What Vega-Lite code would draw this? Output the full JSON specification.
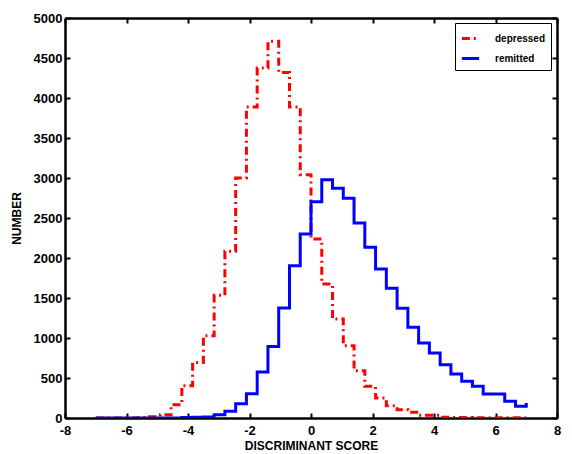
{
  "$schema": "https://vega.github.io/schema/vega-lite/v6.json",
  "width": 492,
  "height": 400,
  "autosize": "none",
  "padding": {"left": 65, "top": 18, "right": 15, "bottom": 36},
  "background": "white",
  "data": {"values": [
    {"x": -7.00, "n": 0, "s": "depressed"},
    {"x": -6.65, "n": 0, "s": "depressed"},
    {"x": -6.30, "n": 0, "s": "depressed"},
    {"x": -5.95, "n": 0, "s": "depressed"},
    {"x": -5.60, "n": 5, "s": "depressed"},
    {"x": -5.25, "n": 15, "s": "depressed"},
    {"x": -4.90, "n": 41, "s": "depressed"},
    {"x": -4.55, "n": 166, "s": "depressed"},
    {"x": -4.20, "n": 404, "s": "depressed"},
    {"x": -3.85, "n": 695, "s": "depressed"},
    {"x": -3.50, "n": 1029, "s": "depressed"},
    {"x": -3.15, "n": 1533, "s": "depressed"},
    {"x": -2.80, "n": 2083, "s": "depressed"},
    {"x": -2.45, "n": 3000, "s": "depressed"},
    {"x": -2.10, "n": 3888, "s": "depressed"},
    {"x": -1.75, "n": 4375, "s": "depressed"},
    {"x": -1.40, "n": 4708, "s": "depressed"},
    {"x": -1.05, "n": 4320, "s": "depressed"},
    {"x": -0.70, "n": 3888, "s": "depressed"},
    {"x": -0.35, "n": 3041, "s": "depressed"},
    {"x": 0.00, "n": 2237, "s": "depressed"},
    {"x": 0.35, "n": 1675, "s": "depressed"},
    {"x": 0.70, "n": 1237, "s": "depressed"},
    {"x": 1.05, "n": 904, "s": "depressed"},
    {"x": 1.40, "n": 592, "s": "depressed"},
    {"x": 1.75, "n": 396, "s": "depressed"},
    {"x": 2.10, "n": 250, "s": "depressed"},
    {"x": 2.45, "n": 154, "s": "depressed"},
    {"x": 2.80, "n": 104, "s": "depressed"},
    {"x": 3.15, "n": 71, "s": "depressed"},
    {"x": 3.50, "n": 33, "s": "depressed"},
    {"x": 3.85, "n": 33, "s": "depressed"},
    {"x": 4.20, "n": 10, "s": "depressed"},
    {"x": 4.55, "n": 6, "s": "depressed"},
    {"x": 4.90, "n": 5, "s": "depressed"},
    {"x": 5.25, "n": 4, "s": "depressed"},
    {"x": 5.60, "n": 3, "s": "depressed"},
    {"x": 5.95, "n": 3, "s": "depressed"},
    {"x": 6.30, "n": 2, "s": "depressed"},
    {"x": 6.65, "n": 2, "s": "depressed"},
    {"x": 7.00, "n": 2, "s": "depressed"},
    {"x": -7.00, "n": 0, "s": "remitted"},
    {"x": -6.65, "n": 0, "s": "remitted"},
    {"x": -6.30, "n": 0, "s": "remitted"},
    {"x": -5.95, "n": 0, "s": "remitted"},
    {"x": -5.60, "n": 0, "s": "remitted"},
    {"x": -5.25, "n": 0, "s": "remitted"},
    {"x": -4.90, "n": 0, "s": "remitted"},
    {"x": -4.55, "n": 0, "s": "remitted"},
    {"x": -4.20, "n": 5, "s": "remitted"},
    {"x": -3.85, "n": 8, "s": "remitted"},
    {"x": -3.50, "n": 12, "s": "remitted"},
    {"x": -3.15, "n": 41, "s": "remitted"},
    {"x": -2.80, "n": 83, "s": "remitted"},
    {"x": -2.45, "n": 179, "s": "remitted"},
    {"x": -2.10, "n": 304, "s": "remitted"},
    {"x": -1.75, "n": 575, "s": "remitted"},
    {"x": -1.40, "n": 895, "s": "remitted"},
    {"x": -1.05, "n": 1375, "s": "remitted"},
    {"x": -0.70, "n": 1904, "s": "remitted"},
    {"x": -0.35, "n": 2300, "s": "remitted"},
    {"x": 0.00, "n": 2704, "s": "remitted"},
    {"x": 0.35, "n": 2979, "s": "remitted"},
    {"x": 0.70, "n": 2871, "s": "remitted"},
    {"x": 1.05, "n": 2746, "s": "remitted"},
    {"x": 1.40, "n": 2437, "s": "remitted"},
    {"x": 1.75, "n": 2133, "s": "remitted"},
    {"x": 2.10, "n": 1862, "s": "remitted"},
    {"x": 2.45, "n": 1621, "s": "remitted"},
    {"x": 2.80, "n": 1371, "s": "remitted"},
    {"x": 3.15, "n": 1133, "s": "remitted"},
    {"x": 3.50, "n": 937, "s": "remitted"},
    {"x": 3.85, "n": 812, "s": "remitted"},
    {"x": 4.20, "n": 666, "s": "remitted"},
    {"x": 4.55, "n": 550, "s": "remitted"},
    {"x": 4.90, "n": 458, "s": "remitted"},
    {"x": 5.25, "n": 396, "s": "remitted"},
    {"x": 5.60, "n": 300, "s": "remitted"},
    {"x": 5.95, "n": 300, "s": "remitted"},
    {"x": 6.30, "n": 208, "s": "remitted"},
    {"x": 6.65, "n": 146, "s": "remitted"},
    {"x": 7.00, "n": 188, "s": "remitted"}
  ]},
  "layer": [
    {
      "mark": {"type": "line", "interpolate": "step-after", "strokeWidth": 3, "clip": true},
      "encoding": {
        "x": {"field": "x", "type": "quantitative",
          "scale": {"domain": [-8, 8], "nice": false, "zero": false},
          "axis": {"orient": "bottom", "title": "DISCRIMINANT SCORE", "values": [-8, -6, -4, -2, 0, 2, 4, 6, 8], "labelExpr": "'' + datum.value", "labelPadding": 11, "titlePadding": 3}},
        "y": {"field": "n", "type": "quantitative",
          "scale": {"domain": [0, 5000], "nice": false},
          "axis": {"orient": "left", "title": "NUMBER", "values": [0, 500, 1000, 1500, 2000, 2500, 3000, 3500, 4000, 4500, 5000], "labelExpr": "'' + datum.value", "titlePadding": 10}},
        "color": {"field": "s", "type": "nominal",
          "scale": {"domain": ["depressed", "remitted"], "range": ["#ff0000", "#0000ff"]},
          "legend": {"title": null}},
        "strokeDash": {"field": "s", "type": "nominal",
          "scale": {"domain": ["depressed", "remitted"], "range": [[8, 4, 2, 4], [1, 0]]},
          "legend": {"title": null}}
      }
    },
    {
      "mark": {"type": "point", "opacity": 0},
      "encoding": {
        "x": {"field": "x", "type": "quantitative",
          "axis": {"orient": "top", "title": null, "labels": false, "values": [-8, -6, -4, -2, 0, 2, 4, 6, 8]}},
        "y": {"field": "n", "type": "quantitative",
          "axis": {"orient": "right", "title": null, "labels": false, "values": [0, 500, 1000, 1500, 2000, 2500, 3000, 3500, 4000, 4500, 5000]}}
      }
    }
  ],
  "resolve": {"axis": {"x": "independent", "y": "independent"}},
  "config": {
    "view": {"stroke": null},
    "axis": {
      "grid": false,
      "domainColor": "black",
      "domainWidth": 2.5,
      "tickColor": "black",
      "tickWidth": 2,
      "tickSize": -5,
      "labelFont": "Liberation Sans",
      "labelFontWeight": "bold",
      "labelFontSize": 13,
      "labelColor": "black",
      "labelPadding": 8,
      "titleFont": "Liberation Sans",
      "titleFontWeight": "bold",
      "titleFontSize": 12,
      "titleColor": "black"
    },
    "axisX": {"labelFlush": false, "labelOverlap": false},
    "axisY": {"labelOverlap": false},
    "legend": {
      "orient": "none",
      "legendX": 390,
      "legendY": 5,
      "strokeColor": "black",
      "fillColor": "white",
      "padding": 5,
      "cornerRadius": 0,
      "symbolType": "stroke",
      "symbolSize": 300,
      "symbolStrokeWidth": 3,
      "labelFont": "Liberation Sans",
      "labelFontWeight": "bold",
      "labelFontSize": 10,
      "labelColor": "black",
      "labelOffset": 14,
      "rowPadding": 3
    }
  }
}
